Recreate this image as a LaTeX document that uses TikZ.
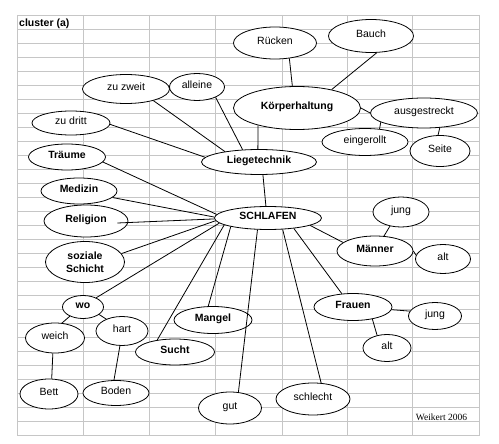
\documentclass[tikz,border=0pt]{standalone}
\usepackage{fontspec}
\setmainfont{Liberation Sans}
\newfontfamily\timesfont{Liberation Serif}
\usetikzlibrary{shapes.geometric,calc}
\begin{document}
\begin{tikzpicture}[x=1pt,y=-1pt,
  elbase/.style 2 args={ellipse,draw,fill=white,line width=0.8pt,inner sep=0pt,
    minimum width=#1pt,minimum height=#2pt,align=center,
    font=\fontsize{10.5}{13}\selectfont},
  el/.style 2 args={elbase={#1}{#2},text height=7.6pt,text depth=5.5pt},
  elb/.style 2 args={el={#1}{#2},font=\fontsize{10.5}{13}\selectfont\bfseries},
  con/.style={draw,line width=0.8pt},
  gridline/.style={draw=gray!45,line width=0.7pt}]
\useasboundingbox (0,0) rectangle (499,444);
% spreadsheet grid
\foreach \k in {0,...,30} \draw[gridline] (17,{15+14.02*\k}) -- (479,{15+14.02*\k});
\foreach \x in {17,83,149,215,282,347,412,479} \draw[gridline] (\x,15) -- (\x,435.6);

\node[anchor=west,inner sep=0pt,font=\fontsize{10.5}{12}\selectfont\bfseries] (title) at (19,24) {cluster (a)};
\node[inner sep=0pt,font=\timesfont\fontsize{9.5}{11}\selectfont] (sig) at (441.5,417) {Weikert 2006};

% nodes
\node[el={83}{32}] (rue) at (275,43) {Rücken};
\node[el={85}{33}] (bau) at (371,36) {Bauch};
\node[elb={127}{43}] (koe) at (297,108) {Körperhaltung};
\node[el={107}{30}] (aus) at (424,113) {ausgestreckt};
\node[el={86}{27}] (ein) at (365,142) {eingerollt};
\node[el={60}{31}] (sei) at (440,151) {Seite};
\node[el={87}{29}] (zzw) at (126,89) {zu zweit};
\node[el={55}{27}] (all) at (197,87) {alleine};
\node[el={78}{24}] (zdr) at (71,123) {zu dritt};
\node[elb={115}{25}] (lie) at (259,162) {Liegetechnik};
\node[elb={77}{26}] (tra) at (67,157) {Träume};
\node[elb={76}{26}] (med) at (79,191) {Medizin};
\node[elb={84}{32}] (rel) at (86,221) {Religion};
\node[elbase={79}{41},font=\fontsize{10.5}{13}\selectfont\bfseries] (soz) at (85,262) {soziale\\Schicht};
\node[elb={107}{23}] (sch) at (268,218) {SCHLAFEN};
\node[elb={41}{23}] (wo) at (83,307) {wo};
\node[el={59}{30}] (wei) at (55,338) {weich};
\node[el={52}{29}] (har) at (122,331) {hart};
\node[el={58}{30}] (bet) at (49,394) {Bett};
\node[el={66}{25}] (bod) at (116,393) {Boden};
\node[elb={79}{26}] (suc) at (175,352) {Sucht};
\node[elb={78}{27}] (man) at (213,320) {Mangel};
\node[el={63}{32}] (gut) at (230,408) {gut};
\node[el={74}{32}] (sle) at (313,399) {schlecht};
\node[elb={78}{27}] (fra) at (353,307) {Frauen};
\node[el={53}{27}] (fju) at (435,316) {jung};
\node[el={48}{27}] (fal) at (387,348) {alt};
\node[elb={76}{30}] (mae) at (375,251) {Männer};
\node[el={56}{30}] (mju) at (401,212) {jung};
\node[el={55}{29}] (mal) at (443,259) {alt};

% connectors
\draw[con] (rue.-47) -- (koe.102);
\draw[con] (bau.-71) -- (koe.28);
\draw[con] (koe.east) -- (aus.west);
\draw[con] (aus.192) -- (ein.42);
\draw[con] (aus.-43) -- (sei.97);
\draw[con] (koe.204) -- (lie.95);
\draw[con] (all.-29) -- (lie.143);
\draw[con] (zzw.-23) -- (lie.163);
\draw[con] (zdr.-2) -- (lie.175);
\draw[con] (lie.-73) -- (sch.100);
\draw[con] (tra.-8) -- (sch.176);
\draw[con] (med.-11) -- (sch.179);
\draw[con] ($(rel.east)+(-11,2)$) -- (sch.181);
\draw[con] (soz.13) -- (sch.183);
\draw[con] (wo.35) -- (sch.186);
\draw[con] (suc.146) -- (sch.189);
\draw[con] (man.109) -- (sch.193);
\draw[con] (gut.62) -- (sch.228);
\draw[con] (sle.63) -- (sch.-38);
\draw[con] (fra.130) -- (sch.-22);
\draw[con] (mae.165) -- (sch.-10);
\draw[con] (mae.59) -- (mju.232);
\draw[con] (mae.east) -- (mal.172);
\draw[con] (fra.-4) -- (fju.169);
\draw[con] (fra.-32) -- (fal.128);
\draw[con] (wo.215) -- (wei.65);
\draw[con] (wo.-25) -- (har.143);
\draw[con] (wei.262) -- (bet.80);
\draw[con] (har.262) -- (bod.99);
\end{tikzpicture}
\end{document}
